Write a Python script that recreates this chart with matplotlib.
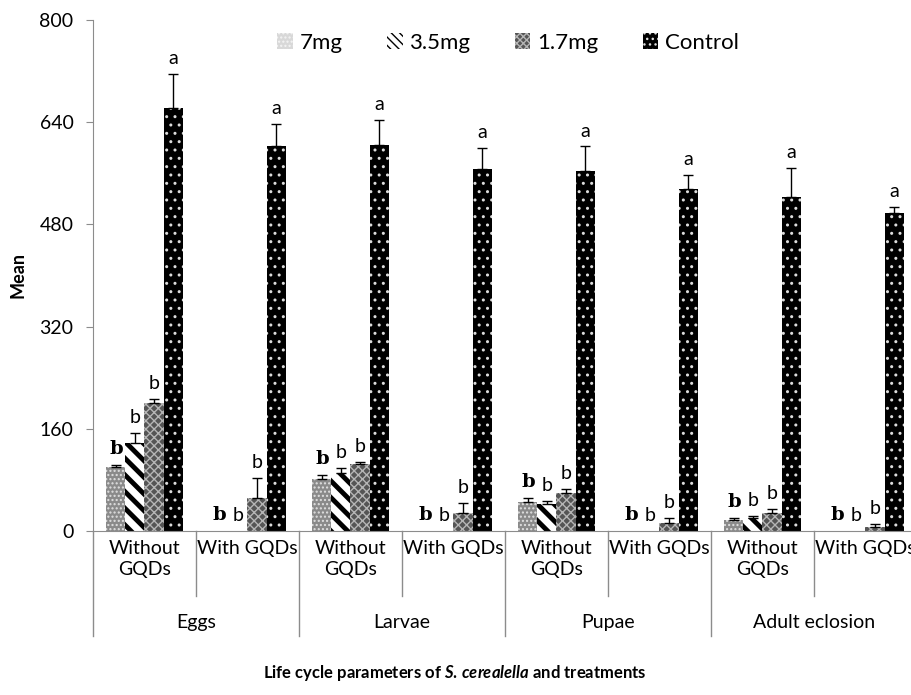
import matplotlib
matplotlib.use("Agg")
import matplotlib.pyplot as plt
import matplotlib.transforms as mtransforms
from matplotlib.patches import Patch
import numpy as np

plt.rcParams['font.family'] = ['Lato', 'DejaVu Sans']
plt.rcParams['mathtext.fontset'] = 'custom'
plt.rcParams['mathtext.it'] = 'Lato:italic:bold'
plt.rcParams['mathtext.rm'] = 'Lato:bold'

# data
stages = ["Eggs", "Larvae", "Pupae", "Adult eclosion"]
sub_labels = ["Without\nGQDs", "With GQDs"] * 4
doses = ["7mg", "3.5mg", "1.7mg", "Control"]

mean_7mg = [100, 0, 81, 0, 45, 0, 18, 0]
mean_35mg = [138, 0, 91, 0, 42, 0, 20, 0]
mean_17mg = [200, 52, 105, 28, 60, 12, 28, 6]
mean_ctrl = [662, 602, 604, 566, 563, 535, 523, 498]

err_7mg = [3, 0, 6, 0, 6, 0, 3, 0]
err_35mg = [15, 0, 7, 0, 5, 0, 3, 0]
err_17mg = [6, 31, 3, 16, 6, 8, 6, 5]
err_ctrl = [53, 35, 39, 33, 39, 22, 45, 9]

letters_7mg = ["b"] * 8
letters_35mg = ["b"] * 8
letters_17mg = ["b"] * 8
letters_ctrl = ["a"] * 8

means = [mean_7mg, mean_35mg, mean_17mg, mean_ctrl]
errs = [err_7mg, err_35mg, err_17mg, err_ctrl]
letters = [letters_7mg, letters_35mg, letters_17mg, letters_ctrl]

styles = [
    dict(facecolor="#8a8a8a", hatch="....", edgecolor="#e0e0e0"),
    dict(facecolor="white", hatch="\\\\", edgecolor="black"),
    dict(facecolor="#555555", hatch="xxxx", edgecolor="#b5b5b5"),
    dict(facecolor="black", hatch="..", edgecolor="#dddddd"),
]


def set_hatch_lw(artist, lw):
    try:
        artist.set_hatch_linewidth(lw)
    except AttributeError:
        pass


fig = plt.figure(figsize=(9.12, 6.95), dpi=100)
ax = fig.add_axes([93/912, (695-531)/695, 8*103/912, 511/695])

x = np.arange(8)
w = 0.185
offs = (np.arange(4) - 1.5) * w
for i in range(4):
    bars = ax.bar(x + offs[i], means[i], w, linewidth=0, **styles[i])
    if i == 1:
        for b in bars:
            set_hatch_lw(b, 3.5)
    xs = [xx for xx, m in zip(x + offs[i], means[i]) if m > 0]
    ms = [m for m in means[i] if m > 0]
    es = [e for e, m in zip(errs[i], means[i]) if m > 0]
    ax.errorbar(xs, ms, yerr=[np.zeros(len(es)), es], fmt="none",
                ecolor="black", elinewidth=1, capsize=3.5, capthick=1)
    for xx, m, e, lab in zip(x + offs[i], means[i], errs[i], letters[i]):
        if i == 0:
            kw = dict(family="DejaVu Serif", fontweight="bold", fontsize=14)
        else:
            kw = dict(fontsize=14)
        ax.annotate(lab, (xx, m + e), xytext=(0, 5), textcoords="offset points",
                    ha="center", va="bottom", **kw)

ax.set_xlim(-0.5, 7.5)
ax.set_ylim(0, 800)
ax.set_yticks(np.arange(0, 801, 160))
ax.tick_params(axis="y", labelsize=14, length=5, color="#8c8c8c", pad=9)
ax.set_xticks([])
for s in ["top", "right"]:
    ax.spines[s].set_visible(False)
for s in ["left", "bottom"]:
    ax.spines[s].set_color("#8c8c8c")

# two-level category axis
tr = mtransforms.blended_transform_factory(ax.transData, ax.transAxes)
for k in range(9):
    xb = k - 0.5
    low = -0.205 if k % 2 == 0 else -0.127
    ax.plot([xb, xb], [0, low], transform=tr, color="#8c8c8c", lw=1, clip_on=False)
for k, lab in enumerate(sub_labels):
    ax.text(k, -0.018, lab, transform=tr, ha="center", va="top",
            fontsize=14, linespacing=1.25)
for k, lab in enumerate(stages):
    ax.text(2 * k + 0.5, -0.18, lab, transform=tr, ha="center", va="center", fontsize=14)

# legend keys with finer patterns so they read at small size
leg_styles = [
    dict(facecolor="#d8d8d8", hatch="....", edgecolor="#f4f4f4"),
    dict(facecolor="white", hatch="\\\\\\\\", edgecolor="black"),
    dict(facecolor="#555555", hatch="xxxxx", edgecolor="#b5b5b5"),
    dict(facecolor="black", hatch="...", edgecolor="#dddddd"),
]
leg_handles = []
for st in leg_styles:
    p = Patch(linewidth=0, **st)
    leg_handles.append(p)
set_hatch_lw(leg_handles[1], 2.0)

ax.legend(leg_handles, doses, loc="center", bbox_to_anchor=(508/912, 1 - 43/695),
          bbox_transform=fig.transFigure,
          ncol=4, frameon=False, fontsize=16, handlelength=0.7, handleheight=0.7,
          handletextpad=0.3, columnspacing=2.0)

fig.text(18/912, 1 - 275/695, "Mean", rotation=90, ha="center", va="center",
         fontsize=13, fontweight="bold")
fig.text(455/912, 1 - 673/695,
         r"Life cycle parameters of $S.\,cerealella$ and treatments",
         ha="center", va="center", fontsize=12, fontweight="bold")

fig.savefig("out.png", dpi=100)
